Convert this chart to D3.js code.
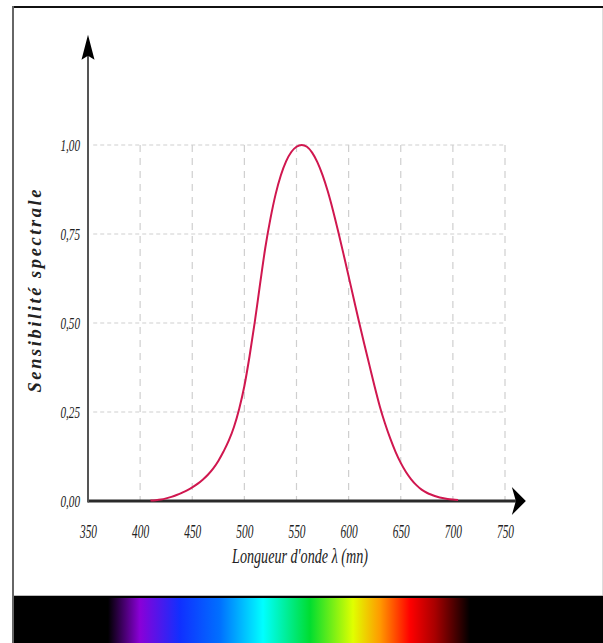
<!DOCTYPE html>
<html>
<head>
  <meta charset="utf-8">
  <script src="https://d3js.org/d3.v7.min.js"></script>
  <style>
    body { margin: 0; background: #fff; }
    .grid line { stroke: #cfcfcf; stroke-width: 1.2px; }
    .tick text { font-family: "Liberation Serif", serif; font-style: italic; fill: #222; }
  </style>
</head>
<body>
  <svg width="603" height="643"></svg>
  <script>
    // photopic sensitivity V(lambda)
    var wavelengths = [410, 415, 420, 425, 430, 435, 440, 445, 450, 455, 460, 465, 470, 475, 480, 485, 490, 495,
      500, 505, 510, 515, 520, 525, 530, 535, 540, 545, 550, 555, 560, 565, 570, 575, 580, 585, 590, 595,
      600, 605, 610, 615, 620, 625, 630, 635, 640, 645, 650, 655, 660, 665, 670, 675, 680, 685, 690, 695, 700, 705];
    var sensitivity = [0.0012, 0.0022, 0.004, 0.0073, 0.0116, 0.0168, 0.023, 0.0298, 0.038, 0.048, 0.06, 0.0739, 0.091, 0.1126, 0.139, 0.1693, 0.208, 0.2586,
      0.323, 0.4073, 0.503, 0.6082, 0.71, 0.7932, 0.862, 0.9149, 0.954, 0.9803, 0.995, 1.0, 0.995, 0.9786, 0.952, 0.9154, 0.87, 0.8163, 0.757, 0.6949,
      0.631, 0.5668, 0.503, 0.4412, 0.381, 0.321, 0.265, 0.217, 0.175, 0.1382, 0.107, 0.0816, 0.061, 0.0446, 0.032, 0.0232, 0.017, 0.0119, 0.0082, 0.0057, 0.0041, 0.0029];
    var xTicks = [350, 400, 450, 500, 550, 600, 650, 700, 750];
    var yTicks = [0, 0.25, 0.5, 0.75, 1];
    var spectrumStops = [[108, "#000"], [140, "#8a00d8"], [180, "#1030ff"], [220, "#0070ff"], [263, "#00ffff"],
      [310, "#00dd30"], [353, "#e0ff00"], [380, "#ff9a00"], [410, "#ff0000"], [435, "#a80000"], [470, "#000"]];

    var svg = d3.select("svg");
    var x = d3.scaleLinear().domain([350, 750]).range([88, 505]);
    var y = d3.scaleLinear().domain([0, 1]).range([501, 145]);

    // frame
    svg.append("rect").attr("x", 14).attr("y", 7).attr("width", 589).attr("height", 589).attr("fill", "#fff");
    svg.append("line").attr("x1", 13).attr("x2", 603).attr("y1", 7).attr("y2", 7).attr("stroke", "#111").attr("stroke-width", 2);
    svg.append("line").attr("x1", 13).attr("x2", 13).attr("y1", 6).attr("y2", 643).attr("stroke", "#666").attr("stroke-width", 2);
    svg.append("line").attr("x1", 602.5).attr("x2", 602.5).attr("y1", 8).attr("y2", 596).attr("stroke", "#ddd").attr("stroke-width", 1);

    // spectrum strip
    var grad = svg.append("defs").append("linearGradient").attr("id", "spec")
      .attr("gradientUnits", "userSpaceOnUse").attr("x1", 0).attr("x2", 603).attr("y1", 0).attr("y2", 0);
    grad.selectAll("stop").data(spectrumStops).enter().append("stop")
      .attr("offset", function (d) { return d[0] / 603; })
      .attr("stop-color", function (d) { return d[1]; });
    svg.append("line").attr("x1", 14).attr("x2", 603).attr("y1", 595.5).attr("y2", 595.5).attr("stroke", "#bbb");
    svg.append("rect").attr("x", 14).attr("y", 596).attr("width", 589).attr("height", 47).attr("fill", "#000");
    svg.append("rect").attr("x", 14).attr("y", 598).attr("width", 589).attr("height", 45).attr("fill", "url(#spec)");

    // grid
    var grid = svg.append("g").attr("class", "grid");
    grid.selectAll("line.h").data(yTicks.slice(1)).enter().append("line").attr("class", "h")
      .attr("x1", x(355)).attr("x2", x(750))
      .attr("y1", function (d) { return y(d); }).attr("y2", function (d) { return y(d); })
      .attr("stroke-dasharray", "4,3");
    grid.selectAll("line.v").data(xTicks.slice(1)).enter().append("line").attr("class", "v")
      .attr("x1", function (d) { return x(d); }).attr("x2", function (d) { return x(d); })
      .attr("y1", y(1)).attr("y2", y(0))
      .attr("stroke-dasharray", "7,6");

    // tick labels
    var xAxis = svg.append("g").attr("transform", "translate(0," + y(0) + ")")
      .call(d3.axisBottom(x).tickValues(xTicks).tickSize(0).tickPadding(0).tickFormat(d3.format("d")));
    xAxis.select(".domain").remove();
    xAxis.selectAll("text").attr("y", 37).attr("dy", 0).attr("font-size", 19)
      .attr("transform", "scale(0.6,1)");

    var comma = function (d) { return d3.format(".2f")(d).replace(".", ","); };
    var yAxis = svg.append("g").attr("transform", "translate(80,0)")
      .call(d3.axisLeft(y).tickValues(yTicks).tickSize(0).tickPadding(0).tickFormat(comma));
    yAxis.select(".domain").remove();
    yAxis.selectAll("text").attr("x", 0).attr("dy", 5.5).attr("font-size", 16)
      .attr("transform", "scale(0.7,1)");

    // axes with arrows
    var x0 = x(350), y0 = y(0), xTip = x(770), yTip = y(1.31);
    svg.append("line").attr("x1", x0).attr("x2", xTip - 10).attr("y1", y0).attr("y2", y0)
      .attr("stroke", "#2a2a2a").attr("stroke-width", 3);
    svg.append("line").attr("x1", x0).attr("x2", x0).attr("y1", y0 + 1.5).attr("y2", yTip + 15)
      .attr("stroke", "#555").attr("stroke-width", 2);
    svg.append("path").attr("fill", "#000")
      .attr("d", "M" + xTip + "," + y0 + "L" + (xTip - 14) + "," + (y0 - 14) + "L" + (xTip - 10) + "," + y0 +
        "L" + (xTip - 14) + "," + (y0 + 14) + "Z");
    svg.append("path").attr("fill", "#000")
      .attr("d", "M" + x0 + "," + yTip + "L" + (x0 - 6.5) + "," + (yTip + 25) + "L" + x0 + "," + (yTip + 21) +
        "L" + (x0 + 6.5) + "," + (yTip + 25) + "Z");

    // curve
    var pts = wavelengths.map(function (w, i) { return [w, sensitivity[i]]; });
    var line = d3.line().x(function (d) { return x(d[0]); }).y(function (d) { return y(d[1]); })
      .curve(d3.curveMonotoneX);
    svg.append("path").datum(pts).attr("d", line).attr("fill", "none")
      .attr("stroke", "#d0174f").attr("stroke-width", 2);

    // titles
    var xt = svg.append("text").attr("x", 0).attr("y", 0)
      .attr("font-family", "Liberation Serif, serif").attr("font-style", "italic").attr("font-size", 22)
      .attr("text-anchor", "middle").attr("fill", "#222")
      .text("Longueur d'onde λ (mn)");
    var w = xt.node().getComputedTextLength();
    xt.attr("transform", "translate(300,563) scale(" + (136 / w) + ",1)");

    svg.append("text")
      .attr("transform", "translate(41,291) rotate(-90)")
      .attr("font-family", "Liberation Serif, serif").attr("font-style", "italic").attr("font-weight", "bold")
      .attr("font-size", 18.5).attr("text-anchor", "middle").attr("fill", "#222")
      .attr("textLength", 203).attr("lengthAdjust", "spacing")
      .text("Sensibilité spectrale");
  </script>
</body>
</html>
